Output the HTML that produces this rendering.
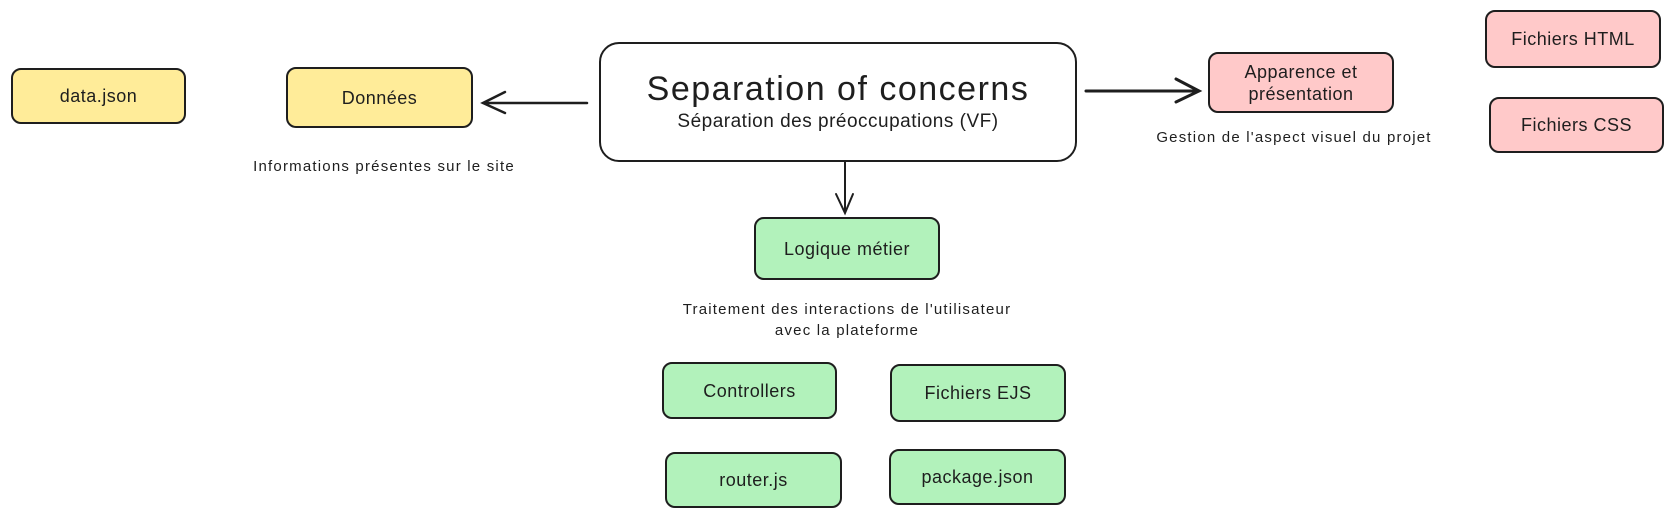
<!DOCTYPE html>
<html><head><meta charset="utf-8"><style>
body{margin:0;width:1675px;height:519px;background:#fff;position:relative;overflow:hidden;font-family:"Liberation Sans","DejaVu Sans",sans-serif;color:#1e1e1e}
.b{position:absolute;box-sizing:border-box;border:2px solid #1e1e1e;border-radius:10px;display:flex;align-items:center;justify-content:center;text-align:center;font-size:18px;line-height:22px;letter-spacing:0.5px}
.y{background:#ffec99}.r{background:#ffc9c9}.g{background:#b2f2bb}
.t{position:absolute;font-size:15px;letter-spacing:1.2px;text-align:center;white-space:nowrap;transform:translateX(-50%)}
</style></head><body>
<div class="b y" style="left:11px;top:68px;width:175px;height:56px">data.json</div>
<div class="b y" style="left:286px;top:67px;width:187px;height:61px">Données</div>
<div class="b" style="left:599px;top:42px;width:478px;height:120px;border-radius:20px;flex-direction:column;background:#fff">
<div style="font-size:34px;line-height:40px;letter-spacing:1.5px">Separation of concerns</div>
<div style="font-size:19px;line-height:26px;letter-spacing:0.5px">Séparation des préoccupations (VF)</div></div>
<div class="b r" style="left:1208px;top:52px;width:186px;height:61px">Apparence et<br>présentation</div>
<div class="b r" style="left:1485px;top:10px;width:176px;height:58px">Fichiers HTML</div>
<div class="b r" style="left:1489px;top:97px;width:175px;height:56px">Fichiers CSS</div>
<div class="b g" style="left:754px;top:217px;width:186px;height:63px">Logique métier</div>
<div class="b g" style="left:662px;top:362px;width:175px;height:57px">Controllers</div>
<div class="b g" style="left:890px;top:364px;width:176px;height:58px">Fichiers EJS</div>
<div class="b g" style="left:665px;top:452px;width:177px;height:56px">router.js</div>
<div class="b g" style="left:889px;top:449px;width:177px;height:56px">package.json</div>
<div class="t" style="left:384px;top:158px">Informations présentes sur le site</div>
<div class="t" style="left:1294px;top:129px">Gestion de l'aspect visuel du projet</div>
<div class="t" style="left:847px;top:299px;line-height:21px">Traitement des interactions de l'utilisateur<br>avec la plateforme</div>
<svg width="1675" height="519" style="position:absolute;left:0;top:0" fill="none" stroke="#1e1e1e" stroke-width="2.5" stroke-linecap="round">
<path d="M587 103 L483 103 M505 92 L483 103 L505 113"/>
<path d="M1086 91 L1199 91 M1176 79 L1199 91 L1176 102" stroke-width="3"/>
<path d="M845 162 L845 213 M836 194 L845 213 L853 194" stroke-width="2"/>
</svg>
</body></html>
